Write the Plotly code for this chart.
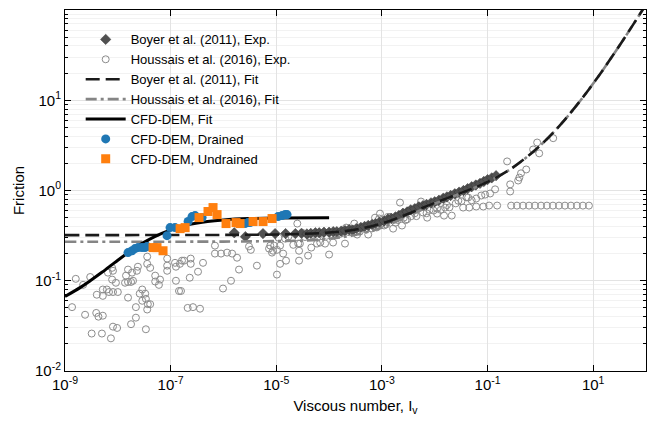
import plotly.graph_objects as go

# ---------------- data ----------------
# Houssais et al. (2016), Exp.  (open gray circles)
houssais_iv = [
    1.36e-9, 1.6e-9, 2.2e-9, 3.0e-9, 2.4e-9, 3.2e-9, 4.0e-9, 3.9e-9, 4.3e-9, 5.2e-9,
    5.0e-9, 7.4e-9, 8.1e-9, 9.7e-9, 5.2e-9, 5.2e-9, 6.2e-9, 7.8e-9, 6.8e-9, 8.1e-9,
    1.0e-8, 7.8e-9, 8.1e-9, 6.5e-9, 9.2e-9, 1.37e-8, 1.56e-8, 1.78e-8, 1.43e-8, 1.56e-8,
    1.86e-8, 2.4e-8, 2.3e-8, 3.6e-8, 3.6e-8, 1.94e-8, 1.56e-8, 2.9e-8, 2.6e-8, 3.3e-8,
    3.4e-8, 3.7e-8, 3.6e-8, 2.2e-8, 1.78e-8, 3.4e-8, 2.9e-8, 2.2e-8, 5.1e-8, 6.3e-8,
    8.6e-8, 8.6e-8, 8.6e-8, 1.26e-7, 1.21e-7, 1.64e-7, 2.1e-7, 1.44e-7, 4.1e-8, 5.1e-8,
    6.0e-8, 4.1e-8, 1.26e-7, 1.5e-7, 1.8e-7, 2.4e-7, 2.4e-7, 2.3e-7, 1.57e-7, 3.3e-7,
    4.1e-7, 2.65e-7, 3.6e-7, 6.9e-7, 6.9e-7, 9.0e-7, 1.17e-6, 1.46e-6, 1.81e-6, 1.97e-6,
    1.39e-6, 9.8e-7, 3.05e-6, 3.3e-6, 4.3e-6, 7.3e-6, 9.1e-6, 1.03e-5, 1.03e-5, 1.18e-5,
    1.35e-5, 1.53e-5, 2.7e-5, 2.7e-5, 2.6e-5, 1.47e-5, 8.3e-6, 7.7e-6, 8.7e-6, 1.18e-5,
    2.5e-5, 3.1e-5, 2.8e-5, 2.1e-5, 4.0e-5, 4.6e-5, 5.9e-5, 6.8e-5, 7.4e-5, 8.4e-5,
    1.0e-4, 1.19e-4, 1.42e-4, 2.0e-4, 2.1e-4, 3.0e-4, 3.4e-4, 5.5e-4, 4.4e-4, 7.4e-4,
    9.2e-4, 1.0e-3, 1.43e-3, 2.2e-3, 2.4e-3, 1.63e-3, 8.9e-4, 1.3e-3, 5.5e-3, 3.4e-3,
    7.2e-3, 1.11e-2, 1.5e-2, 2.1e-2, 1.11e-2, 1.57e-2, 4.3e-2, 6.1e-2, 7.6e-2, 0.112,
    0.139, 0.268, 0.268, 0.235, 0.38, 0.40, 0.43, 0.54, 0.73, 0.87,
    0.95, 1.75, 2.0e-3, 2.6e-3, 3.0e-3, 4.2e-3, 6.0e-3, 8.0e-3, 2.5e-2, 3.2e-2,
    6.0e-5, 1.6e-4, 2.6e-4, 6.5e-4, 1.2e-3, 3.6e-3, 1.3e-2, 1.9e-2, 5.0e-2, 9.0e-2,
    3.45e-2, 4.5e-2, 6.1e-2, 8.3e-2, 0.107, 0.152,
    0.28, 0.36, 0.47, 0.61, 0.79, 1.03, 1.33, 1.73, 2.25, 2.92, 3.79, 4.92, 6.39, 8.3,
    1.1e-5, 1.7e-5, 3.5e-5, 5.0e-5, 9.0e-5, 1.3e-4, 1.8e-4, 2.4e-4, 3.8e-4, 5.0e-4,
    8.0e-4, 1.1e-3, 1.8e-3, 2.8e-3, 4.5e-3, 7.0e-3, 9.5e-3, 1.7e-2, 2.8e-2, 4.0e-2,
]
houssais_mu = [
    0.051, 0.105, 0.090, 0.110, 0.042, 0.026, 0.070, 0.044, 0.040, 0.041,
    0.026, 0.023, 0.031, 0.030, 0.068, 0.080, 0.080, 0.103, 0.075, 0.075,
    0.075, 0.139, 0.129, 0.123, 0.095, 0.095, 0.097, 0.097, 0.114, 0.133,
    0.123, 0.143, 0.129, 0.185, 0.154, 0.100, 0.065, 0.080, 0.072, 0.072,
    0.063, 0.055, 0.048, 0.039, 0.033, 0.029, 0.060, 0.051, 0.114, 0.103,
    0.176, 0.147, 0.129, 0.100, 0.158, 0.167, 0.050, 0.077, 0.139, 0.098,
    0.090, 0.055, 0.143, 0.154, 0.167, 0.176, 0.154, 0.108, 0.077, 0.126,
    0.158, 0.051, 0.049, 0.245, 0.200, 0.200, 0.205, 0.200, 0.180, 0.133,
    0.100, 0.082, 0.240, 0.220, 0.147, 0.227, 0.245, 0.220, 0.117, 0.154,
    0.200, 0.167, 0.167, 0.215, 0.258, 0.293, 0.205, 0.245, 0.215, 0.245,
    0.430, 0.340, 0.258, 0.250, 0.190, 0.233, 0.258, 0.265, 0.333, 0.258,
    0.195, 0.265, 0.333, 0.258, 0.388, 0.430, 0.325, 0.325, 0.388, 0.500,
    0.555, 0.430, 0.510, 0.735, 0.409, 0.378, 0.490, 0.510, 0.755, 0.600,
    0.500, 0.555, 0.527, 0.527, 0.630, 0.647, 0.836, 0.815, 0.880, 0.926,
    1.03, 0.975, 1.17, 2.10, 1.29, 1.39, 1.55, 1.71, 2.85, 3.40,
    2.58, 3.80, 0.470, 0.500, 0.480, 0.560, 0.570, 0.610, 0.720, 0.760,
    0.300, 0.330, 0.350, 0.380, 0.420, 0.520, 0.610, 0.650, 0.780, 0.900,
    0.647, 0.647, 0.664, 0.664, 0.681, 0.681,
    0.68, 0.68, 0.68, 0.68, 0.68, 0.68, 0.68, 0.68, 0.68, 0.68, 0.68, 0.68, 0.68, 0.68,
    0.300, 0.310, 0.305, 0.320, 0.315, 0.330, 0.340, 0.345, 0.350, 0.370,
    0.390, 0.410, 0.440, 0.470, 0.520, 0.560, 0.600, 0.690, 0.770, 0.840,
]

# Boyer et al. (2011), Exp.  (dark diamonds)
boyer_iv = [
    1.6e-6, 2.6e-6, 5.6e-6, 9.5e-6, 1.5e-5, 2.3e-5, 3.0e-5, 3.8e-5, 4.5e-5, 5.5e-5,
    6.5e-5, 8.0e-5, 1.0e-4, 1.2e-4, 1.4e-4, 1.7e-4, 2.0e-4, 2.4e-4, 2.8e-4, 3.3e-4,
    4.0e-4, 4.7e-4, 5.5e-4, 6.5e-4, 7.5e-4, 9.0e-4, 1.1e-3, 1.3e-3, 1.5e-3, 1.8e-3,
    2.1e-3, 2.5e-3, 3.0e-3, 3.5e-3, 4.2e-3, 5.0e-3, 6.0e-3, 7.0e-3, 8.5e-3, 1.0e-2,
    1.2e-2, 1.45e-2, 1.7e-2, 2.0e-2, 2.4e-2, 2.9e-2, 3.5e-2, 4.2e-2, 5.0e-2, 6.0e-2,
    7.2e-2, 8.5e-2, 0.10, 0.12, 0.145,
]
boyer_mu = [
    0.340, 0.308, 0.333, 0.333, 0.333, 0.333, 0.335, 0.330, 0.335, 0.340,
    0.340, 0.345, 0.345, 0.350, 0.350, 0.355, 0.360, 0.370, 0.365, 0.380,
    0.390, 0.400, 0.410, 0.420, 0.430, 0.445, 0.460, 0.480, 0.490, 0.510,
    0.530, 0.560, 0.580, 0.610, 0.630, 0.660, 0.680, 0.700, 0.730, 0.750,
    0.780, 0.820, 0.850, 0.880, 0.920, 0.960, 1.00, 1.05, 1.10, 1.15,
    1.20, 1.26, 1.32, 1.38, 1.46,
]

# Boyer et al. (2011), Fit
boyer_fit_iv = [1e-9, 1e-6, 3e-6, 1e-5, 3e-5, 1e-4, 3e-4, 1e-3, 3e-3, 1e-2, 3e-2,
                1e-1, 3e-1, 1.0, 3.0, 10.0, 30.0, 100.0]
boyer_fit_mu = [0.320, 0.322, 0.323, 0.325, 0.330, 0.342, 0.367, 0.431, 0.546, 0.729, 0.929,
                1.244, 1.795, 3.16, 6.23, 15.3, 38.7, 115.0]

# Houssais et al. (2016), Fit
houssais_fit_iv = [1e-9, 1e-6, 3e-6, 1e-5, 3e-5, 1e-4, 3e-4, 1e-3, 3e-3, 1e-2, 3e-2,
                   1e-1, 3e-1, 1.0, 3.0, 10.0, 30.0, 100.0]
houssais_fit_mu = [0.270, 0.2716, 0.2728, 0.2755, 0.2783, 0.293, 0.320, 0.389, 0.514, 0.713, 0.922,
                   1.242, 1.794, 3.16, 6.23, 15.3, 38.7, 115.0]

# CFD-DEM, Fit
cfd_fit_iv = [1e-9, 2e-9, 3e-9, 5e-9, 1e-8, 2e-8, 3e-8, 5e-8, 1e-7, 2e-7, 3e-7, 5e-7,
              1e-6, 3e-6, 1e-5, 1e-4]
cfd_fit_mu = [0.067, 0.085, 0.100, 0.124, 0.169, 0.226, 0.263, 0.309, 0.367, 0.413, 0.433, 0.454,
              0.472, 0.488, 0.495, 0.499]

# CFD-DEM, Drained
drained_iv = [1.56e-8, 1.86e-8, 2.12e-8, 2.42e-8, 2.87e-8, 3.27e-8, 3.57e-8, 8.55e-8, 9.75e-8,
              1.21e-7, 2.14e-7, 2.54e-7, 2.9e-7, 3.94e-7, 2.56e-6, 2.92e-6, 3.19e-6,
              1.08e-5, 1.29e-5, 1.47e-5, 1.6e-5]
drained_mu = [0.205, 0.215, 0.227, 0.233, 0.233, 0.233, 0.239, 0.316, 0.388, 0.388,
              0.453, 0.514, 0.527, 0.501, 0.430, 0.441, 0.441, 0.514, 0.527, 0.541, 0.541]

# CFD-DEM, Undrained
undrained_iv = [4.65e-8, 5.52e-8, 7.18e-8, 1.51e-7, 1.88e-7, 3.45e-7, 5.1e-7, 6.35e-7,
                7.57e-7, 1.12e-6, 1.73e-6, 2.06e-6, 3.64e-6, 5.62e-6, 8.32e-6]
undrained_mu = [0.233, 0.233, 0.215, 0.378, 0.388, 0.501, 0.585, 0.647, 0.541, 0.430,
                0.441, 0.430, 0.453, 0.453, 0.489]

x_tick_vals = [1e-9, 1e-7, 1e-5, 1e-3, 1e-1, 1e1]
x_tick_text = ["10<sup>-9</sup>", "10<sup>-7</sup>", "10<sup>-5</sup>", "10<sup>-3</sup>",
               "10<sup>-1</sup>", "10<sup>1</sup>"]
y_tick_vals = [1e-2, 1e-1, 1e0, 1e1, 1e2]
y_tick_text = ["10<sup>-2</sup>", "10<sup>-1</sup>", "10<sup>0</sup>", "10<sup>1</sup>", "10<sup>2</sup>"]
y_minor_vals = [0.02, 0.03, 0.04, 0.05, 0.06, 0.07, 0.08, 0.09,
                0.2, 0.3, 0.4, 0.5, 0.6, 0.7, 0.8, 0.9,
                2, 3, 4, 5, 6, 7, 8, 9,
                20, 30, 40, 50, 60, 70, 80, 90]

# ---------------- figure ----------------
BLUE = "#1f77b4"
ORANGE = "#ff7f0e"
FONT = "Liberation Sans, Arial, sans-serif"

fig = go.Figure()

fig.add_trace(go.Scatter(
    x=houssais_iv, y=houssais_mu, mode="markers", name="Houssais et al. (2016), Exp.",
    legendrank=2,
    marker=dict(symbol="circle-open", size=7, color="#8c8c8c", line=dict(width=1, color="#8c8c8c")),
))
fig.add_trace(go.Scatter(
    x=boyer_iv, y=boyer_mu, mode="markers", name="Boyer et al. (2011), Exp.",
    legendrank=1,
    marker=dict(symbol="diamond", size=8, color="#505050", line=dict(width=0.5, color="#333333")),
))
fig.add_trace(go.Scatter(
    x=houssais_fit_iv, y=houssais_fit_mu, mode="lines", name="Houssais et al. (2016), Fit",
    legendrank=4, line_shape="spline",
    line=dict(color="#858585", width=2.6, dash="11px,4px,3px,4px"),
))
fig.add_trace(go.Scatter(
    x=boyer_fit_iv, y=boyer_fit_mu, mode="lines", name="Boyer et al. (2011), Fit",
    legendrank=3, line_shape="spline",
    line=dict(color="#1a1a1a", width=2.6, dash="14px,6px"),
))
fig.add_trace(go.Scatter(
    x=cfd_fit_iv, y=cfd_fit_mu, mode="lines", name="CFD-DEM, Fit",
    legendrank=5, line_shape="spline",
    line=dict(color="black", width=3),
))
fig.add_trace(go.Scatter(
    x=drained_iv, y=drained_mu, mode="markers", name="CFD-DEM, Drained",
    legendrank=6,
    marker=dict(symbol="circle", size=9, color=BLUE),
))
fig.add_trace(go.Scatter(
    x=undrained_iv, y=undrained_mu, mode="markers", name="CFD-DEM, Undrained",
    legendrank=7,
    marker=dict(symbol="square", size=9, color=ORANGE),
))

axis_common = dict(
    showline=True, linecolor="black", linewidth=1, mirror="allticks",
    ticks="inside", tickcolor="black", ticklen=6,
    showgrid=True, gridcolor="#e3e3e3", gridwidth=1,
    zeroline=False, tickfont=dict(size=15, color="black", family=FONT),
)

fig.update_layout(
    width=651, height=424,
    margin=dict(l=65, r=5, t=10, b=53),
    paper_bgcolor="white", plot_bgcolor="white",
    font=dict(family=FONT, color="black"),
    showlegend=True,
    legend=dict(
        x=0.027, y=0.96, xanchor="left", yanchor="top",
        bgcolor="rgba(255,255,255,0)", borderwidth=0,
        font=dict(size=13, family=FONT), tracegroupgap=0, itemwidth=40,
    ),
    xaxis=dict(
        type="log", range=[-9, 2],
        tickvals=x_tick_vals, ticktext=x_tick_text,
        title=dict(text="Viscous number, I<sub>v</sub>", font=dict(size=15, family=FONT), standoff=8),
        **axis_common,
    ),
    yaxis=dict(
        type="log", range=[-2, 2],
        tickvals=y_tick_vals, ticktext=y_tick_text,
        title=dict(text="Friction", font=dict(size=15, family=FONT), standoff=6),
        minor=dict(tickvals=y_minor_vals, ticks="inside", ticklen=3, tickcolor="black",
                   showgrid=True, gridcolor="#f2f2f2", gridwidth=1),
        **axis_common,
    ),
)

fig.write_html("out.html")
